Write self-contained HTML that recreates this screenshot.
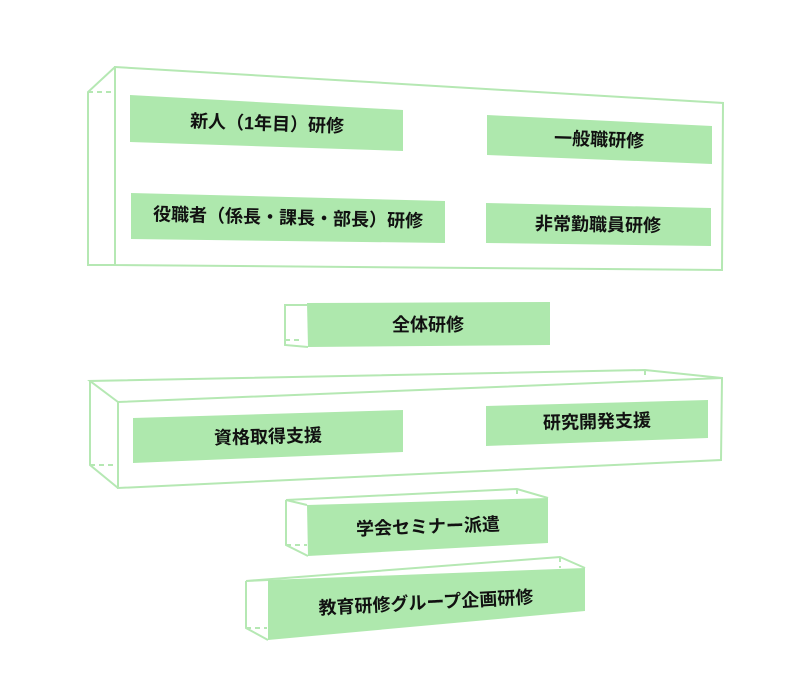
<!DOCTYPE html>
<html><head><meta charset="utf-8"><style>
body{margin:0;background:#fff;}
svg{display:block;}
text{font-family:"Liberation Sans","Noto Sans CJK JP",sans-serif;font-weight:bold;font-size:18px;fill:#111;text-anchor:middle;dominant-baseline:middle;}
.o{fill:none;stroke:#b5e8b3;stroke-width:2;}
.d{fill:none;stroke:#b5e8b3;stroke-width:2;stroke-dasharray:5 4;}
.g{fill:#aee8ad;}
</style></head><body>
<svg width="800" height="700" viewBox="0 0 800 700">
<polygon class="o" points="115,67 723,103 722,270 115,265"/>
<polyline class="o" points="115,67 88,92 88,265 115,265"/>
<line class="d" x1="88" y1="92" x2="115" y2="92"/>
<polygon class="g" points="130,95 403,110 403,151 130,142"/>
<text x="267" y="125" transform="rotate(2 267 125)">新人（1年目）研修</text>
<polygon class="g" points="487,115 712,126 712,164 487,155"/>
<text x="599" y="141" transform="rotate(2 599 141)">一般職研修</text>
<polygon class="g" points="131,193 445,201 445,243 131,239"/>
<text x="288" y="219" transform="rotate(1.5 288 219)">役職者（係長・課長・部長）研修</text>
<polygon class="g" points="486,203 711,208 711,246 486,243"/>
<text x="598" y="226" transform="rotate(1 598 226)">非常勤職員研修</text>
<polyline class="o" points="307,305 285,305 285,345 308,347"/>
<line class="d" x1="285" y1="340" x2="300" y2="340"/>
<polygon class="g" points="307,303 550,302 550,345 308,347"/>
<text x="428" y="326">全体研修</text>
<polygon class="o" points="118,402 722,378 721,460 118,488"/>
<polyline class="o" points="118,402 90,381 645,370 722,378"/>
<polyline class="o" points="90,381 90,465 118,488"/>
<line class="d" x1="90" y1="465" x2="118" y2="465"/>
<line class="d" x1="645" y1="370" x2="645" y2="378"/>
<polygon class="g" points="133,418 403,410 403,452 133,463"/>
<text x="268" y="438" transform="rotate(-1.5 268 438)">資格取得支援</text>
<polygon class="g" points="486,406 708,400 708,438 486,446"/>
<text x="597" y="423" transform="rotate(-1.5 597 423)">研究開発支援</text>
<polyline class="o" points="307,505 286,500 517,489 548,498"/>
<polyline class="o" points="286,500 286,545 308,556"/>
<line class="d" x1="286" y1="545" x2="307" y2="545"/>
<line class="d" x1="517" y1="489" x2="517" y2="498"/>
<polygon class="g" points="307,505 548,498 548,543 308,556"/>
<text x="428" y="528" transform="rotate(-2 428 528)">学会セミナー派遣</text>
<polyline class="o" points="268,580 246,581 560,557 585,568"/>
<polyline class="o" points="246,581 246,628 268,640"/>
<line class="d" x1="246" y1="628" x2="267" y2="628"/>
<line class="d" x1="560" y1="557" x2="560" y2="568"/>
<polygon class="g" points="268,580 585,568 585,611 268,640"/>
<text x="426" y="604" transform="rotate(-3 426 604)">教育研修グループ企画研修</text>
</svg>
</body></html>
